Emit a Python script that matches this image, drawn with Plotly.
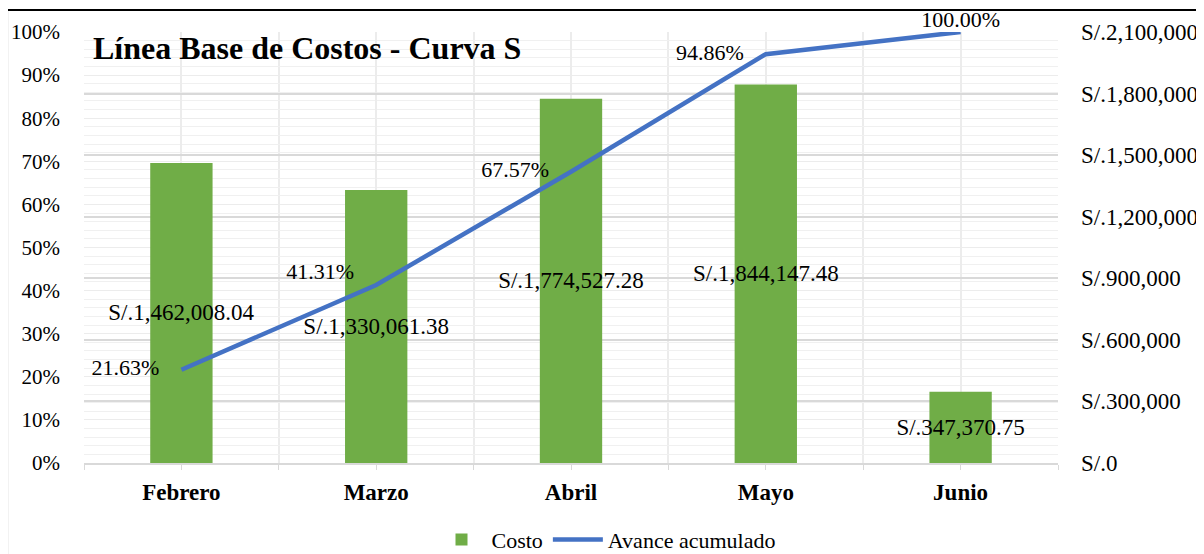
import plotly.graph_objects as go

# Datos de la curva S
meses = ["Febrero", "Marzo", "Abril", "Mayo", "Junio"]
costo = [1462008.04, 1330061.38, 1774527.28, 1844147.48, 347370.75]
avance_acumulado = [0.2163, 0.4131, 0.6757, 0.9486, 1.0000]

PAD = "\u00a0" * 4
costo_labels = [f"S/.{v:,.2f}" for v in costo]
avance_labels = [f"{v:.2%}" + (PAD if i < 4 else "") for i, v in enumerate(avance_acumulado)]
avance_pos = ["middle left", "top left", "middle left", "middle left", "top center"]

VERDE = "#70AD47"
AZUL = "#4472C4"
FONT = "Liberation Serif"
idx = list(range(len(meses)))

fig = go.Figure()

# barras en el eje base (derecho), linea en el eje superpuesto (izquierdo) para que quede encima
fig.add_trace(go.Bar(
    x=idx, y=costo, name="Costo", yaxis="y",
    marker=dict(color=VERDE, line=dict(width=0)),
    width=0.32,
    text=costo_labels, textposition="inside", insidetextanchor="middle",
    textangle=0, constraintext="none",
    textfont=dict(family=FONT, size=23, color="black"),
    cliponaxis=False,
))

fig.add_trace(go.Scatter(
    x=idx, y=avance_acumulado, name="Avance acumulado", yaxis="y2",
    mode="lines+text",
    line=dict(color=AZUL, width=4.5),
    text=avance_labels, textposition=avance_pos,
    textfont=dict(family=FONT, size=22, color="black"),
    cliponaxis=False,
))

# la pagina tiene 8px de margen en el body: figura de 1196x546
fig.update_layout(
    width=1196, height=546,
    paper_bgcolor="white", plot_bgcolor="white",
    font=dict(family=FONT, size=21, color="black"),
    margin=dict(l=76, r=146, t=24, b=91, autoexpand=False),
    title=dict(
        text="<b>Línea Base de Costos - Curva S</b>",
        font=dict(family=FONT, size=32, color="black"),
        x=0.071, xanchor="left", xref="container",
        y=0.927, yanchor="middle", yref="container",
        automargin=False,
    ),
    xaxis=dict(
        range=[-0.5, 4.5], tickvals=idx, ticktext=[f"<b>{m}</b>" for m in meses],
        tickfont=dict(family=FONT, size=23),
        showgrid=True, gridcolor="#ececec", gridwidth=1.5,
        showline=True, linecolor="#d9d9d9", linewidth=1.5,
        ticks="", ticklabelstandoff=8, automargin=False,
        minor=dict(dtick=0.5, tick0=-0.5, showgrid=True, gridcolor="#ececec",
                   ticks="outside", ticklen=5, tickcolor="#d9d9d9"),
        zeroline=False,
    ),
    yaxis=dict(
        range=[0, 2100000], dtick=300000, tickprefix="S/.", tickformat=",",
        side="right", tickfont=dict(family=FONT, size=23),
        showgrid=True, gridcolor="#d9d9d9", gridwidth=2,
        zeroline=False, ticklabelstandoff=22, automargin=False,
    ),
    yaxis2=dict(
        range=[0, 1], dtick=0.1, tickformat=".0%",
        overlaying="y", side="left", tickfont=dict(family=FONT, size=21),
        showgrid=True, gridcolor="#ececec", gridwidth=1,
        minor=dict(dtick=0.02, showgrid=True, gridcolor="#f0f0f0", gridwidth=1),
        zeroline=False, ticklabelstandoff=23, automargin=False,
    ),
    legend=dict(
        orientation="h", x=0.5, xanchor="center", xref="container",
        y=-0.178, yanchor="middle",
        font=dict(family=FONT, size=22), itemwidth=50, traceorder="normal",
    ),
    shapes=[dict(
        type="rect", xref="paper", yref="paper",
        x0=-0.079, x1=1.2, y0=-0.3, y1=1.051,
        line=dict(color="black", width=2), layer="above",
    )],
)

fig.write_html("out.html")
